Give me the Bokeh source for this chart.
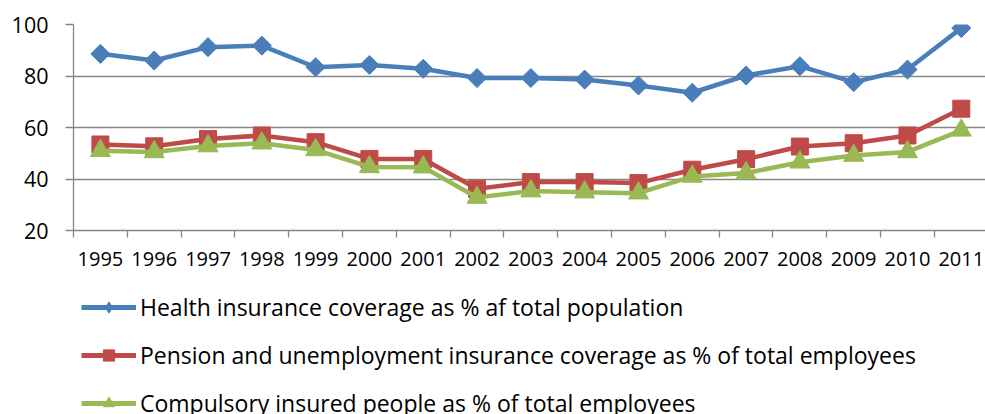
import math
from bokeh.plotting import figure
from bokeh.layouts import column
from bokeh.models import Range1d, FixedTicker, Legend, LegendItem
from bokeh.embed import file_html
from bokeh.resources import INLINE

years = [str(y) for y in range(1995, 2012)]
health = [88.6, 86.0, 91.2, 91.8, 83.4, 84.3, 82.8, 79.2, 79.2, 78.6, 76.3, 73.5, 80.2, 83.8, 77.6, 82.5, 98.6]
pension = [53.4, 52.7, 55.5, 56.9, 54.3, 47.8, 47.8, 36.2, 38.8, 38.8, 38.4, 43.6, 47.7, 52.6, 53.9, 56.9, 67.3]
compulsory = [51.0, 50.5, 52.8, 53.9, 51.3, 44.7, 44.6, 32.8, 35.3, 34.9, 34.5, 41.0, 42.3, 46.5, 49.1, 50.5, 58.9]
y_ticks = [20, 40, 60, 80, 100]
series_names = [
    "Health insurance coverage as % af total population",
    "Pension and unemployment insurance coverage as % of total employees",
    "Compulsory insured people as % of total employees",
]
colors = ["#4A7EBB", "#BE4B48", "#98B954"]

n = len(years)
xc = [i + 0.5 for i in range(n)]
bounds = [float(i) for i in range(n + 1)]

FONT = "Open Sans"
GRAY = "#868686"
W = 985

p = figure(width=W, height=285, output_backend="svg", toolbar_location=None,
           x_range=Range1d(0, 16.95), y_range=Range1d(20, 100),
           min_border_left=73, min_border_right=0, min_border_top=24, min_border_bottom=55)
p.outline_line_color = None
p.background_fill_color = "white"
p.border_fill_color = "white"

# grid
p.xgrid.visible = False
p.ygrid.grid_line_color = GRAY
p.ygrid.grid_line_width = 1.3
p.ygrid.ticker = FixedTicker(ticks=y_ticks)

# y axis
p.yaxis.ticker = FixedTicker(ticks=y_ticks)
p.yaxis.axis_line_color = GRAY
p.yaxis.axis_line_width = 1.3
p.yaxis.major_tick_line_color = GRAY
p.yaxis.major_tick_line_width = 1.3
p.yaxis.major_tick_out = 8
p.yaxis.major_tick_in = 0
p.yaxis.minor_tick_line_color = None
p.yaxis.major_label_text_font = FONT
p.yaxis.major_label_text_font_size = "21.5px"
p.yaxis.major_label_text_color = "#000000"
p.yaxis.major_label_standoff = 17

# x axis
p.xaxis.ticker = FixedTicker(ticks=xc, minor_ticks=bounds)
p.xaxis.major_label_overrides = {x: y for x, y in zip(xc, years)}
p.xaxis.axis_line_color = GRAY
p.xaxis.axis_line_width = 1.3
p.xaxis.major_tick_line_color = None
p.xaxis.major_tick_out = 0
p.xaxis.major_tick_in = 0
p.xaxis.minor_tick_line_color = GRAY
p.xaxis.minor_tick_line_width = 1.3
p.xaxis.minor_tick_out = 7
p.xaxis.minor_tick_in = 0
p.xaxis.major_label_text_font = FONT
p.xaxis.major_label_text_font_size = "20px"
p.xaxis.major_label_text_color = "#000000"
p.xaxis.major_label_standoff = 14

specs = [
    (health, dict(marker="square", size=13.5, angle=math.pi / 4)),
    (pension, dict(marker="square", size=17)),
    (compulsory, dict(marker="triangle", size=20)),
]
legend_markers = [
    dict(marker="diamond", size=16),
    dict(marker="square", size=17),
    dict(marker="triangle", size=20),
]
for (vals, mk), col in zip(specs, colors):
    p.line(xc, vals, line_color=col, line_width=4.5)
    p.scatter(xc, vals, fill_color=col, line_color=col, **mk)

# legend panel (separate figure below the chart; its frame is aligned with the chart's)
q = figure(width=W, height=129, output_backend="svg", toolbar_location=None,
           x_range=Range1d(0, 1), y_range=Range1d(0, 1),
           x_axis_location=None, y_axis_location=None,
           min_border_left=0, min_border_right=0, min_border_top=0, min_border_bottom=0)
q.outline_line_color = None
q.grid.visible = False
items = []
for mk, name, col in zip(legend_markers, series_names, colors):
    # proxy glyphs placed outside the visible range, only used for the legend
    lr = q.line([-5, -4], [-5, -4], line_color=col, line_width=5)
    sr = q.scatter([-5], [-5], fill_color=col, line_color=col, **mk)
    items.append(LegendItem(label=name, renderers=[lr, sr]))

legend = Legend(items=items, location=(8, -4.5), orientation="vertical",
                glyph_width=55, glyph_height=28, label_height=32, spacing=16,
                label_standoff=4, padding=0, margin=0,
                label_text_font=FONT, label_text_font_size="23px",
                label_text_color="#000000",
                border_line_color=None, background_fill_alpha=0)
q.add_layout(legend)

layout = column(p, q, spacing=0)
open("out.html", "w").write(file_html(layout, INLINE))
